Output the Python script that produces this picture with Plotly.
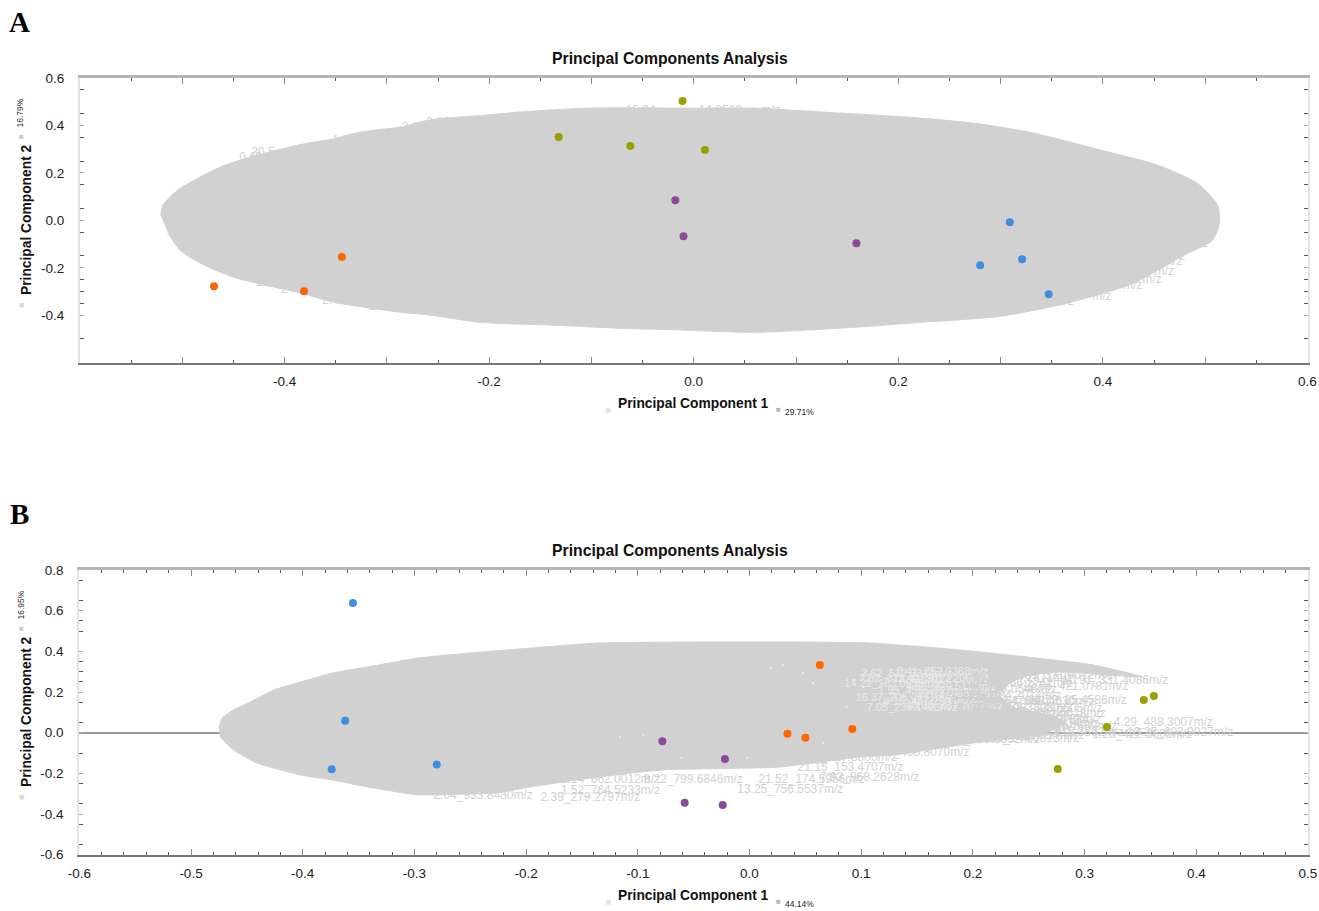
import plotly.graph_objects as go

# ---------- Panel A: samples ----------
a_orange_x = [-0.469, -0.381, -0.344]
a_orange_y = [-0.278, -0.299, -0.155]
a_olive_x = [-0.011, -0.132, -0.062, 0.011]
a_olive_y = [0.503, 0.351, 0.313, 0.296]
a_purple_x = [-0.018, -0.010, 0.159]
a_purple_y = [0.085, -0.067, -0.096]
a_blue_x = [0.309, 0.321, 0.280, 0.347]
a_blue_y = [-0.008, -0.164, -0.189, -0.311]

# Panel A: extent of the cloud of feature labels
a_cloud_x = [-0.521, -0.519, -0.511, -0.502, -0.490, -0.475, -0.461, -0.443, -0.423, -0.404, -0.384,
             -0.365, -0.352, -0.335, -0.311, -0.287, -0.259, -0.202, -0.169, -0.104, -0.006, 0.058,
             0.124, 0.222, 0.280, 0.332, 0.398, 0.453, 0.492, 0.512, 0.514, 0.507, 0.479, 0.430,
             0.365, 0.300, 0.222, 0.156, 0.058, -0.006, -0.072, -0.137, -0.208, -0.257,
             -0.287, -0.352, -0.384, -0.450, -0.482, -0.502, -0.514]
a_cloud_y = [0.020, 0.064, 0.102, 0.136, 0.165, 0.200, 0.228, 0.254, 0.279, 0.300, 0.320,
             0.334, 0.343, 0.364, 0.381, 0.393, 0.423, 0.444, 0.457, 0.473, 0.473, 0.473,
             0.457, 0.431, 0.406, 0.368, 0.296, 0.233, 0.157, 0.064, -0.008, -0.084, -0.147, -0.265,
             -0.349, -0.404, -0.430, -0.451, -0.472, -0.463, -0.455, -0.442, -0.430, -0.400,
             -0.387, -0.345, -0.307, -0.240, -0.181, -0.126, -0.054]
a_fringe_x = [0.502, 0.504, 0.499, 0.494, 0.471, 0.468, 0.460, 0.448, 0.429, 0.399, 0.362,
              -0.421, -0.250, -0.433, -0.342, -0.274, -0.052, 0.026, 0.075,
              -0.417, -0.397, -0.352, -0.309]
a_fringe_y = [0.056, -0.012, -0.054, -0.100, -0.155, -0.176, -0.219, -0.253, -0.278, -0.324, -0.345,
              0.285, 0.410, 0.262, 0.335, 0.390, 0.462, 0.462, 0.460,
              -0.265, -0.295, -0.340, -0.365]
a_fringe_text = ["m/z", "m/z", "m/z", "m/z", "m/z", "m/z", "m/z", "m/z", "m/z", "m/z", "m/z",
                 "30.5", "3.62", "0.69", "1.43", "2.15", "15.94", "14.8569", "m/z",
                 "13.2", "24", "2.48", "2.1"]

# ---------- Panel B: samples ----------
b_blue_x = [-0.355, -0.362, -0.374, -0.280]
b_blue_y = [0.638, 0.059, -0.180, -0.157]
b_purple_x = [-0.078, -0.022, -0.058, -0.024]
b_purple_y = [-0.042, -0.129, -0.344, -0.355]
b_orange_x = [0.034, 0.050, 0.092, 0.063]
b_orange_y = [-0.005, -0.025, 0.018, 0.333]
b_olive_x = [0.362, 0.353, 0.320, 0.276]
b_olive_y = [0.180, 0.161, 0.028, -0.178]

b_cloud_x = [-0.475, -0.472, -0.462, -0.447, -0.426, -0.402, -0.373, -0.342, -0.297, -0.250, -0.196,
             -0.136, -0.047, 0.043, 0.108, 0.189, 0.249, 0.308, 0.352, 0.308, 0.278, 0.251, 0.233,
             0.224, 0.238, 0.270, 0.283, 0.261, 0.207, 0.129, 0.099, 0.027, -0.077, -0.136,
             -0.196, -0.226, -0.286, -0.297, -0.342, -0.373, -0.402, -0.441, -0.462, -0.474]
b_cloud_y = [0.023, 0.072, 0.112, 0.151, 0.210, 0.249, 0.294, 0.323, 0.367, 0.392, 0.416,
             0.441, 0.446, 0.446, 0.441, 0.407, 0.372, 0.333, 0.274, 0.289, 0.298, 0.283, 0.244,
             0.185, 0.121, 0.082, 0.053, -0.011, -0.046, -0.110, -0.119, -0.169, -0.183, -0.218,
             -0.267, -0.296, -0.306, -0.306, -0.267, -0.233, -0.208, -0.149, -0.085, -0.021]

b_label_x = [0.280, 0.231, 0.244, 0.249, 0.227, 0.215, 0.224, 0.326, 0.307, 0.338, 0.211, 0.171, 0.108,
             0.063, 0.043, 0.043, -0.283, -0.187, -0.169, -0.011, -0.095, -0.169, 0.008]
b_label_y = [0.254, 0.279, 0.225, 0.156, 0.117, 0.072, 0.043, 0.048, -0.011, -0.001, -0.016, -0.036, -0.100,
             -0.223, -0.174, -0.124, -0.311, -0.321, -0.287, -0.282, -0.233, -0.233, -0.233]
b_label_text = ["10.91_331.4086m/z", "15.89_331.0012m/z", "12.66_421.0781m/z", "24.72_85.4586m/z",
                "8.02_228.6605m/z", "6.41_331.5400m/z", "7.41_522.1634m/z", "4.29_488.3007m/z",
                "1.28_422.3605m/z", "13.25_603.9027m/z", "9.12_912.6547m/z", "6.66_468.8552m/z",
                "3.05_468.8070m/z", "7.93_968.2628m/z", "21.15_153.4707m/z", "9.87_217.8800m/z",
                "2.04_933.8480m/z", "2.39_279.2797m/z", "1.52_764.5233m/z", "13.25_756.5537m/z",
                "8.22_799.6846m/z", "2.14_662.0012m/z", "21.52_174.5956m/z"]
b_fill_x = [0.20, 0.20, 0.18, 0.19, 0.18, 0.22, 0.20, 0.19, 0.23, 0.18, 0.22, 0.20, 0.24, 0.19, 0.24, 0.20]
b_fill_y = [0.27, 0.24, 0.21, 0.18, 0.15, 0.15, 0.12, 0.09, 0.09, 0.06, 0.06, 0.03, 0.03, 0.00, 0.00, -0.03]
b_fill_text = ["6.03_394.2871m/z", "9.34_266.1742m/z", "18.06_129.0546m/z", "6.88_284.2014m/z",
               "2.26_791.5476m/z", "5.64_668.4630m/z", "4.12_576.3805m/z", "13.66_415.2644m/z",
               "2.93_842.5618m/z", "6.27_524.3570m/z", "15.42_176.0782m/z", "11.09_368.2455m/z",
               "5.01_256.1680m/z", "1.74_482.3169m/z", "12.28_615.3892m/z", "17.15_144.0813m/z"]
# labels whose gaps let the white page show through the cloud
b_gap_x = [0.10, 0.128, 0.085, 0.14, 0.115, 0.098, 0.132, 0.15, 0.12, 0.095, 0.14, 0.105]
b_gap_y = [0.285, 0.262, 0.238, 0.222, 0.205, 0.262, 0.298, 0.188, 0.150, 0.168, 0.130, 0.120]
b_gap_text = ["3.62_512.3344m/z", "11.40_301.2206m/z", "14.21_183.0655m/z", "4.86_720.5113m/z",
              "1.95_455.3027m/z", "7.52_613.4289m/z", "3.41_352.2368m/z", "12.73_508.3391m/z",
              "8.19_447.2903m/z", "16.37_205.0971m/z", "10.08_331.1827m/z", "7.05_239.1496m/z"]
b_speck_x = [-0.061, 0.030, 0.019, 0.057, 0.087, -0.002, -0.095, -0.116, 0.093, 0.102, 0.048, 0.066]
b_speck_y = [-0.123, 0.333, 0.318, 0.244, 0.126, -0.124, -0.011, -0.021, 0.259, 0.225, 0.294, -0.051]

# ---------- Axis tick tables ----------
a_xticks = [-0.5, -0.4, -0.3, -0.2, -0.1, 0.0, 0.1, 0.2, 0.3, 0.4, 0.5, 0.6]
a_xticktext = ["", "-0.4", "", "-0.2", "", "0.0", "", "0.2", "", "0.4", "", "0.6"]
a_xminor = [-0.55, -0.45, -0.35, -0.25, -0.15, -0.05, 0.05, 0.15, 0.25, 0.35, 0.45, 0.55]
a_yticks = [0.6, 0.4, 0.2, 0.0, -0.2, -0.4]
a_yticktext = ["0.6", "0.4", "0.2", "0.0", "-0.2", "-0.4"]
a_yminor = [0.55, 0.45, 0.35, 0.25, 0.15, 0.05, -0.05, -0.15, -0.25, -0.30, -0.35, -0.50]
b_xticks = [-0.6, -0.5, -0.4, -0.3, -0.2, -0.1, 0.0, 0.1, 0.2, 0.3, 0.4, 0.5]
b_xticktext = ["-0.6", "-0.5", "-0.4", "-0.3", "-0.2", "-0.1", "0.0", "0.1", "0.2", "0.3", "0.4", "0.5"]
b_xminor = [-0.58, -0.56, -0.54, -0.52, -0.48, -0.46, -0.44, -0.42, -0.38, -0.36, -0.34, -0.32, -0.28, -0.26,
            -0.24, -0.22, -0.18, -0.16, -0.14, -0.12, -0.08, -0.06, -0.04, -0.02, 0.02, 0.04, 0.06, 0.08,
            0.12, 0.14, 0.16, 0.18, 0.22, 0.24, 0.26, 0.28, 0.32, 0.34, 0.36, 0.38, 0.42, 0.44, 0.46, 0.48]
b_yticks = [0.8, 0.6, 0.4, 0.2, 0.0, -0.2, -0.4, -0.6]
b_yticktext = ["0.8", "0.6", "0.4", "0.2", "0.0", "-0.2", "-0.4", "-0.6"]
b_yminor = [0.75, 0.65, 0.55, 0.50, 0.35, 0.30, 0.25, 0.15, 0.05, -0.10, -0.25, -0.35, -0.45, -0.55]

ORANGE, OLIVE, PURPLE, BLUE = "#FF6600", "#99A000", "#8A4A9C", "#3F8EE0"
CLOUD = "#D1D1D1"
SANS = "Liberation Sans"
W, H = 1319, 911


def px(x):
    return x / W


def py(y):
    return 1 - y / H


fig = go.Figure()


def samples(x, y, color, xa, ya):
    fig.add_trace(go.Scatter(x=x, y=y, mode="markers", xaxis=xa, yaxis=ya, showlegend=False,
                             marker=dict(size=8, color=color, line=dict(width=0))))


# Panel A
fig.add_trace(go.Scatter(x=a_cloud_x, y=a_cloud_y, mode="lines", fill="toself", fillcolor=CLOUD,
                         line=dict(color=CLOUD, width=1, shape="spline", smoothing=0.7), xaxis="x", yaxis="y",
                         showlegend=False))
fig.add_trace(go.Scatter(x=a_fringe_x, y=a_fringe_y, mode="text", text=a_fringe_text, textposition="middle center",
                         textfont=dict(family=SANS, size=12, color=CLOUD), xaxis="x", yaxis="y", showlegend=False))
samples(a_orange_x, a_orange_y, ORANGE, "x", "y")
samples(a_olive_x, a_olive_y, OLIVE, "x", "y")
samples(a_purple_x, a_purple_y, PURPLE, "x", "y")
samples(a_blue_x, a_blue_y, BLUE, "x", "y")

# Panel B
fig.add_trace(go.Scatter(x=b_cloud_x, y=b_cloud_y, mode="lines", fill="toself", fillcolor=CLOUD,
                         line=dict(color=CLOUD, width=1, shape="spline", smoothing=0.5), xaxis="x3", yaxis="y3",
                         showlegend=False))
fig.add_trace(go.Scatter(x=b_gap_x, y=b_gap_y, mode="text", text=b_gap_text, textposition="middle right",
                         textfont=dict(family=SANS, size=11, color="#E9E9E9"), xaxis="x3", yaxis="y3",
                         showlegend=False))
fig.add_trace(go.Scatter(x=b_fill_x, y=b_fill_y, mode="text", text=b_fill_text, textposition="middle right",
                         textfont=dict(family=SANS, size=12, color=CLOUD), xaxis="x3", yaxis="y3", showlegend=False))
fig.add_trace(go.Scatter(x=b_speck_x, y=b_speck_y, mode="markers", marker=dict(size=2, color="#EDEDED"),
                         xaxis="x3", yaxis="y3", showlegend=False))
fig.add_trace(go.Scatter(x=b_label_x, y=b_label_y, mode="text", text=b_label_text, textposition="middle right",
                         textfont=dict(family=SANS, size=12, color=CLOUD), xaxis="x3", yaxis="y3", showlegend=False))
samples(b_blue_x, b_blue_y, BLUE, "x3", "y3")
samples(b_purple_x, b_purple_y, PURPLE, "x3", "y3")
samples(b_orange_x, b_orange_y, ORANGE, "x3", "y3")
samples(b_olive_x, b_olive_y, OLIVE, "x3", "y3")

# Invisible traces keep the top/right companion axes alive
for xa, ya in (("x2", "y2"), ("x4", "y4")):
    fig.add_trace(go.Scatter(x=[None], y=[None], mode="markers", xaxis=xa, yaxis=ya, showlegend=False,
                             hoverinfo="skip"))


def xax(dom, rng, vals, text, minor, anchor, side, linecolor, width, overlay=None, labels=True):
    d = dict(domain=dom, range=rng, anchor=anchor, side=side, showgrid=False, zeroline=False,
             showline=True, linecolor=linecolor, linewidth=width,
             tickmode="array", tickvals=vals, ticktext=text, ticks="inside", ticklen=6, tickcolor="#8A8A8A",
             tickwidth=1, showticklabels=labels, ticklabelstandoff=5,
             tickfont=dict(family=SANS, size=13.5, color="#222222"),
             minor=dict(tickmode="array", tickvals=minor, ticks="inside", ticklen=3, tickcolor="#555555",
                        tickwidth=1, showgrid=False))
    if overlay:
        d["overlaying"] = overlay
    return d


def yax(dom, rng, vals, text, minor, anchor, side, overlay=None, labels=True, zero=False):
    d = dict(domain=dom, range=rng, anchor=anchor, side=side, showgrid=False,
             zeroline=zero, zerolinecolor="#999999", zerolinewidth=2,
             showline=True, linecolor="#E4E4E4", linewidth=2,
             tickmode="array", tickvals=vals, ticktext=text, ticks="inside", ticklen=4, tickcolor="#A8A8A8",
             tickwidth=1, showticklabels=labels, ticklabelstandoff=11,
             tickfont=dict(family=SANS, size=13.5, color="#222222"),
             minor=dict(tickmode="array", tickvals=minor, ticks="inside", ticklen=4, tickcolor="#555555",
                        tickwidth=1, showgrid=False))
    if overlay:
        d["overlaying"] = overlay
    return d


a_xdom = [px(80), px(1307.5)]
a_ydom = [py(362.7), py(78)]
b_xdom = [px(79.3), px(1308)]
b_ydom = [py(854.7), py(570)]
a_xr, a_yr = [-0.6, 0.6], [-0.6, 0.6]
b_xr, b_yr = [-0.6, 0.5], [-0.6, 0.8]

annotations = []


def note(x, y, text, size, color="#111111", bold=False, angle=0, family=SANS):
    annotations.append(dict(x=px(x), y=py(y), xref="paper", yref="paper", text=f"<b>{text}</b>" if bold else text,
                            showarrow=False, xanchor="center", yanchor="middle", textangle=angle,
                            font=dict(family=family, size=size, color=color)))


SERIF = "Liberation Serif"
note(19, 22, "A", 29, "#000000", True, family=SERIF)
note(19, 514, "B", 29, "#000000", True, family=SERIF)
for top, xpct, ypct in ((0, "29.71%", "16.79%"), (492, "44.14%", "16.95%")):
    note(669.5, 58 + top, "Principal Components Analysis", 15.75, bold=True)
    note(693, 403 + top, "Principal Component 1", 13.8, bold=True)
    note(799, 412 + top, xpct, 8.5, "#222222")
    note(607.5, 409.5 + top, "■", 10, "#E4E4E4")
    note(778, 409.5 + top, "■", 8, "#B4BAC4")
    note(26, 220 + top, "Principal Component 2", 13.8, bold=True, angle=-90)
    note(20, 113.5 + top, ypct, 8.5, "#333333", angle=-90)
    note(21, 136 + top, "■", 8, "#C8C8C8")
    note(21, 305 + top, "■", 9, "#D8D8D8")

fig.update_layout(
    width=W, height=H, autosize=False, margin=dict(l=0, r=0, t=0, b=0, autoexpand=False),
    paper_bgcolor="white", plot_bgcolor="white", showlegend=False,
    annotations=annotations,
    xaxis=xax(a_xdom, a_xr, a_xticks, a_xticktext, a_xminor, "y", "bottom", "#777777", 1.5),
    yaxis=yax(a_ydom, a_yr, a_yticks, a_yticktext, a_yminor, "x", "left"),
    xaxis2=xax(a_xdom, a_xr, a_xticks, a_xticktext, a_xminor, "y2", "top", "#B4B4B4", 2.5, overlay="x", labels=False),
    yaxis2=yax(a_ydom, a_yr, a_yticks, a_yticktext, a_yminor, "x2", "right", overlay="y", labels=False),
    xaxis3=xax(b_xdom, b_xr, b_xticks, b_xticktext, b_xminor, "y3", "bottom", "#777777", 1.5),
    yaxis3=yax(b_ydom, b_yr, b_yticks, b_yticktext, b_yminor, "x3", "left", zero=True),
    xaxis4=xax(b_xdom, b_xr, b_xticks, b_xticktext, b_xminor, "y4", "top", "#B4B4B4", 2.5, overlay="x3", labels=False),
    yaxis4=yax(b_ydom, b_yr, b_yticks, b_yticktext, b_yminor, "x4", "right", overlay="y3", labels=False),
)
fig.write_html("out.html", config={"displayModeBar": False}, post_script="document.body.style.margin='0';")
